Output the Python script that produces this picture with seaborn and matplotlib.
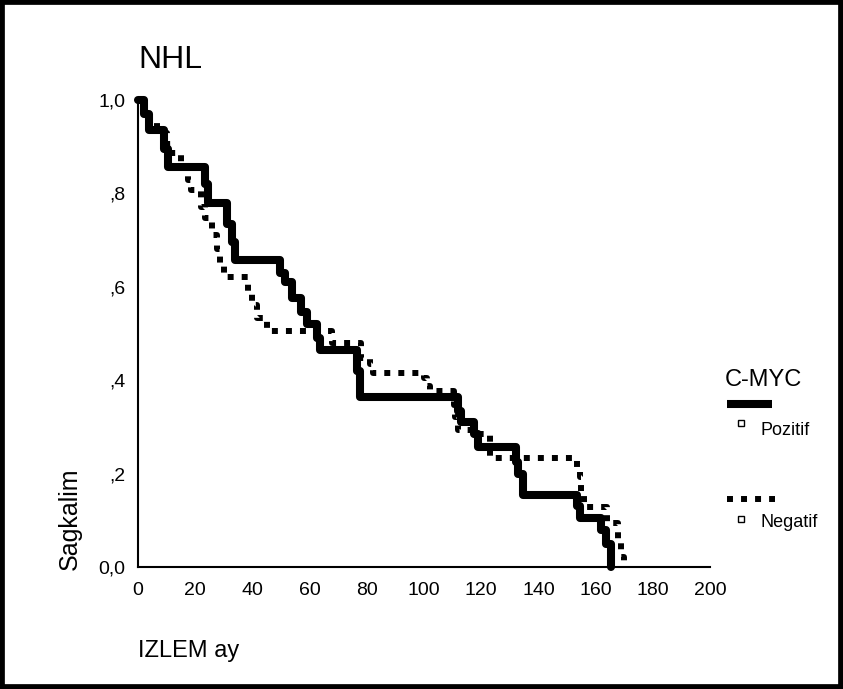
import matplotlib
matplotlib.use("Agg")
import matplotlib.pyplot as plt
import seaborn as sns
import pandas as pd
from matplotlib.lines import Line2D
from matplotlib.patches import Rectangle

# ---- data ----
pozitif_t = [0, 2, 4, 9, 10.5, 23.5, 24.5, 31, 33, 34, 49.5, 51.5, 54, 57, 59, 62.5, 63.5,
             76.5, 77.5, 112, 113, 117.5, 119, 132, 133, 134.5, 153.5, 154.5, 162, 163.5, 165.5]
pozitif_s = [1.0, 0.97, 0.935, 0.895, 0.857, 0.82, 0.78, 0.735, 0.695, 0.657, 0.63, 0.61, 0.575,
             0.545, 0.52, 0.49, 0.465, 0.42, 0.363, 0.335, 0.31, 0.285, 0.257, 0.225, 0.2, 0.155,
             0.13, 0.105, 0.08, 0.05, 0.0]

negatif_t = [0, 2, 4, 6.5, 10, 12, 15, 17.5, 18.5, 22, 23.5, 26, 27.5, 28.5, 30, 38.5, 40, 41.5,
             45, 68, 78, 81, 82, 100, 101, 102, 110.5, 111, 112, 119, 123, 153.5, 154.5, 155,
             156, 164, 168, 169, 170]
negatif_s = [1.0, 0.975, 0.955, 0.93, 0.905, 0.886, 0.855, 0.829, 0.807, 0.77, 0.747, 0.71, 0.68,
             0.651, 0.621, 0.59, 0.561, 0.533, 0.505, 0.48, 0.447, 0.435, 0.415, 0.405, 0.388,
             0.377, 0.347, 0.321, 0.293, 0.285, 0.233, 0.21, 0.193, 0.16, 0.128, 0.094, 0.054,
             0.021, 0.0]

x_ticks = [0, 20, 40, 60, 80, 100, 120, 140, 160, 180, 200]
y_ticks = [0.0, 0.2, 0.4, 0.6, 0.8, 1.0]
y_tick_labels = ["0,0", ",2", ",4", ",6", ",8", "1,0"]
groups = ["Pozitif", "Negatif"]
legend_title = "C-MYC"
title = "NHL"
x_label = "IZLEM ay"
y_label = "Sagkalim"

# ---- style ----
sns.set_style("white")
plt.rcParams["font.family"] = ["Liberation Sans", "DejaVu Sans"]
plt.rcParams["text.color"] = "black"

W, H = 843, 689
fig = plt.figure(figsize=(W / 100, H / 100), dpi=100)
fig.patch.set_facecolor("white")
ax = fig.add_axes([138 / W, 122 / H, (710 - 138) / W, (567 - 100) / H])

df_p = pd.DataFrame({"t": pozitif_t, "s": pozitif_s})
df_n = pd.DataFrame({"t": negatif_t, "s": negatif_s})

sns.lineplot(data=df_n, x="t", y="s", ax=ax, estimator=None, drawstyle="steps-post",
             color="black", lw=4.3, linestyle=(0, (1, 1.35)), dash_capstyle="butt",
             clip_on=False, zorder=3, legend=False)
sns.lineplot(data=df_p, x="t", y="s", ax=ax, estimator=None, drawstyle="steps-post",
             color="black", lw=5.8, clip_on=False, zorder=2, legend=False)

ax.set_xlim(0, 200)
ax.set_ylim(0, 1.0)
ax.set_xticks(x_ticks)
ax.set_xticklabels([str(v) for v in x_ticks])
ax.set_yticks(y_ticks)
ax.set_yticklabels(y_tick_labels)
ax.tick_params(axis="both", length=0, labelsize=14, colors="black")
ax.tick_params(axis="y", pad=9)
ax.tick_params(axis="x", pad=11)
ax.set_xlabel("")
ax.set_ylabel("")
for side in ["top", "right"]:
    ax.spines[side].set_visible(False)
for side in ["left", "bottom"]:
    ax.spines[side].set_color("black")
    ax.spines[side].set_linewidth(1.5)

# ---- texts ----
fig.text(138 / W, 1 - 68 / H, title, fontsize=23, va="baseline", ha="left")
fig.text(138 / W, 1 - 657 / H, x_label, fontsize=17, va="baseline", ha="left")
fig.text(70 / W, 1 - 570 / H, y_label, fontsize=18, rotation=90, va="bottom", ha="center")

# ---- legend ----
fig.text(725 / W, 1 - 386 / H, legend_title, fontsize=17, va="baseline", ha="left")
fig.add_artist(Line2D([727 / W, 772 / W], [1 - 404 / H, 1 - 404 / H], transform=fig.transFigure,
                      color="black", lw=5.8, solid_capstyle="butt"))
fig.add_artist(Line2D([741 / W], [1 - 423 / H], transform=fig.transFigure, marker="s",
                      markersize=4.5, mfc="white", mec="black", mew=1, linestyle="none"))
fig.text(760 / W, 1 - 435 / H, groups[0], fontsize=13, va="baseline", ha="left")
fig.add_artist(Line2D([727 / W, 775 / W], [1 - 499 / H, 1 - 499 / H], transform=fig.transFigure,
                      color="black", lw=4.3, linestyle=(0, (1, 1.35)), dash_capstyle="butt"))
fig.add_artist(Line2D([741 / W], [1 - 519 / H], transform=fig.transFigure, marker="s",
                      markersize=4.5, mfc="white", mec="black", mew=1, linestyle="none"))
fig.text(760 / W, 1 - 527 / H, groups[1], fontsize=13, va="baseline", ha="left")

# outer frame
fig.add_artist(Rectangle((0, 0), 1, 1, transform=fig.transFigure, fill=False,
                         ec="black", lw=7))

fig.savefig("out.png", dpi=100)
